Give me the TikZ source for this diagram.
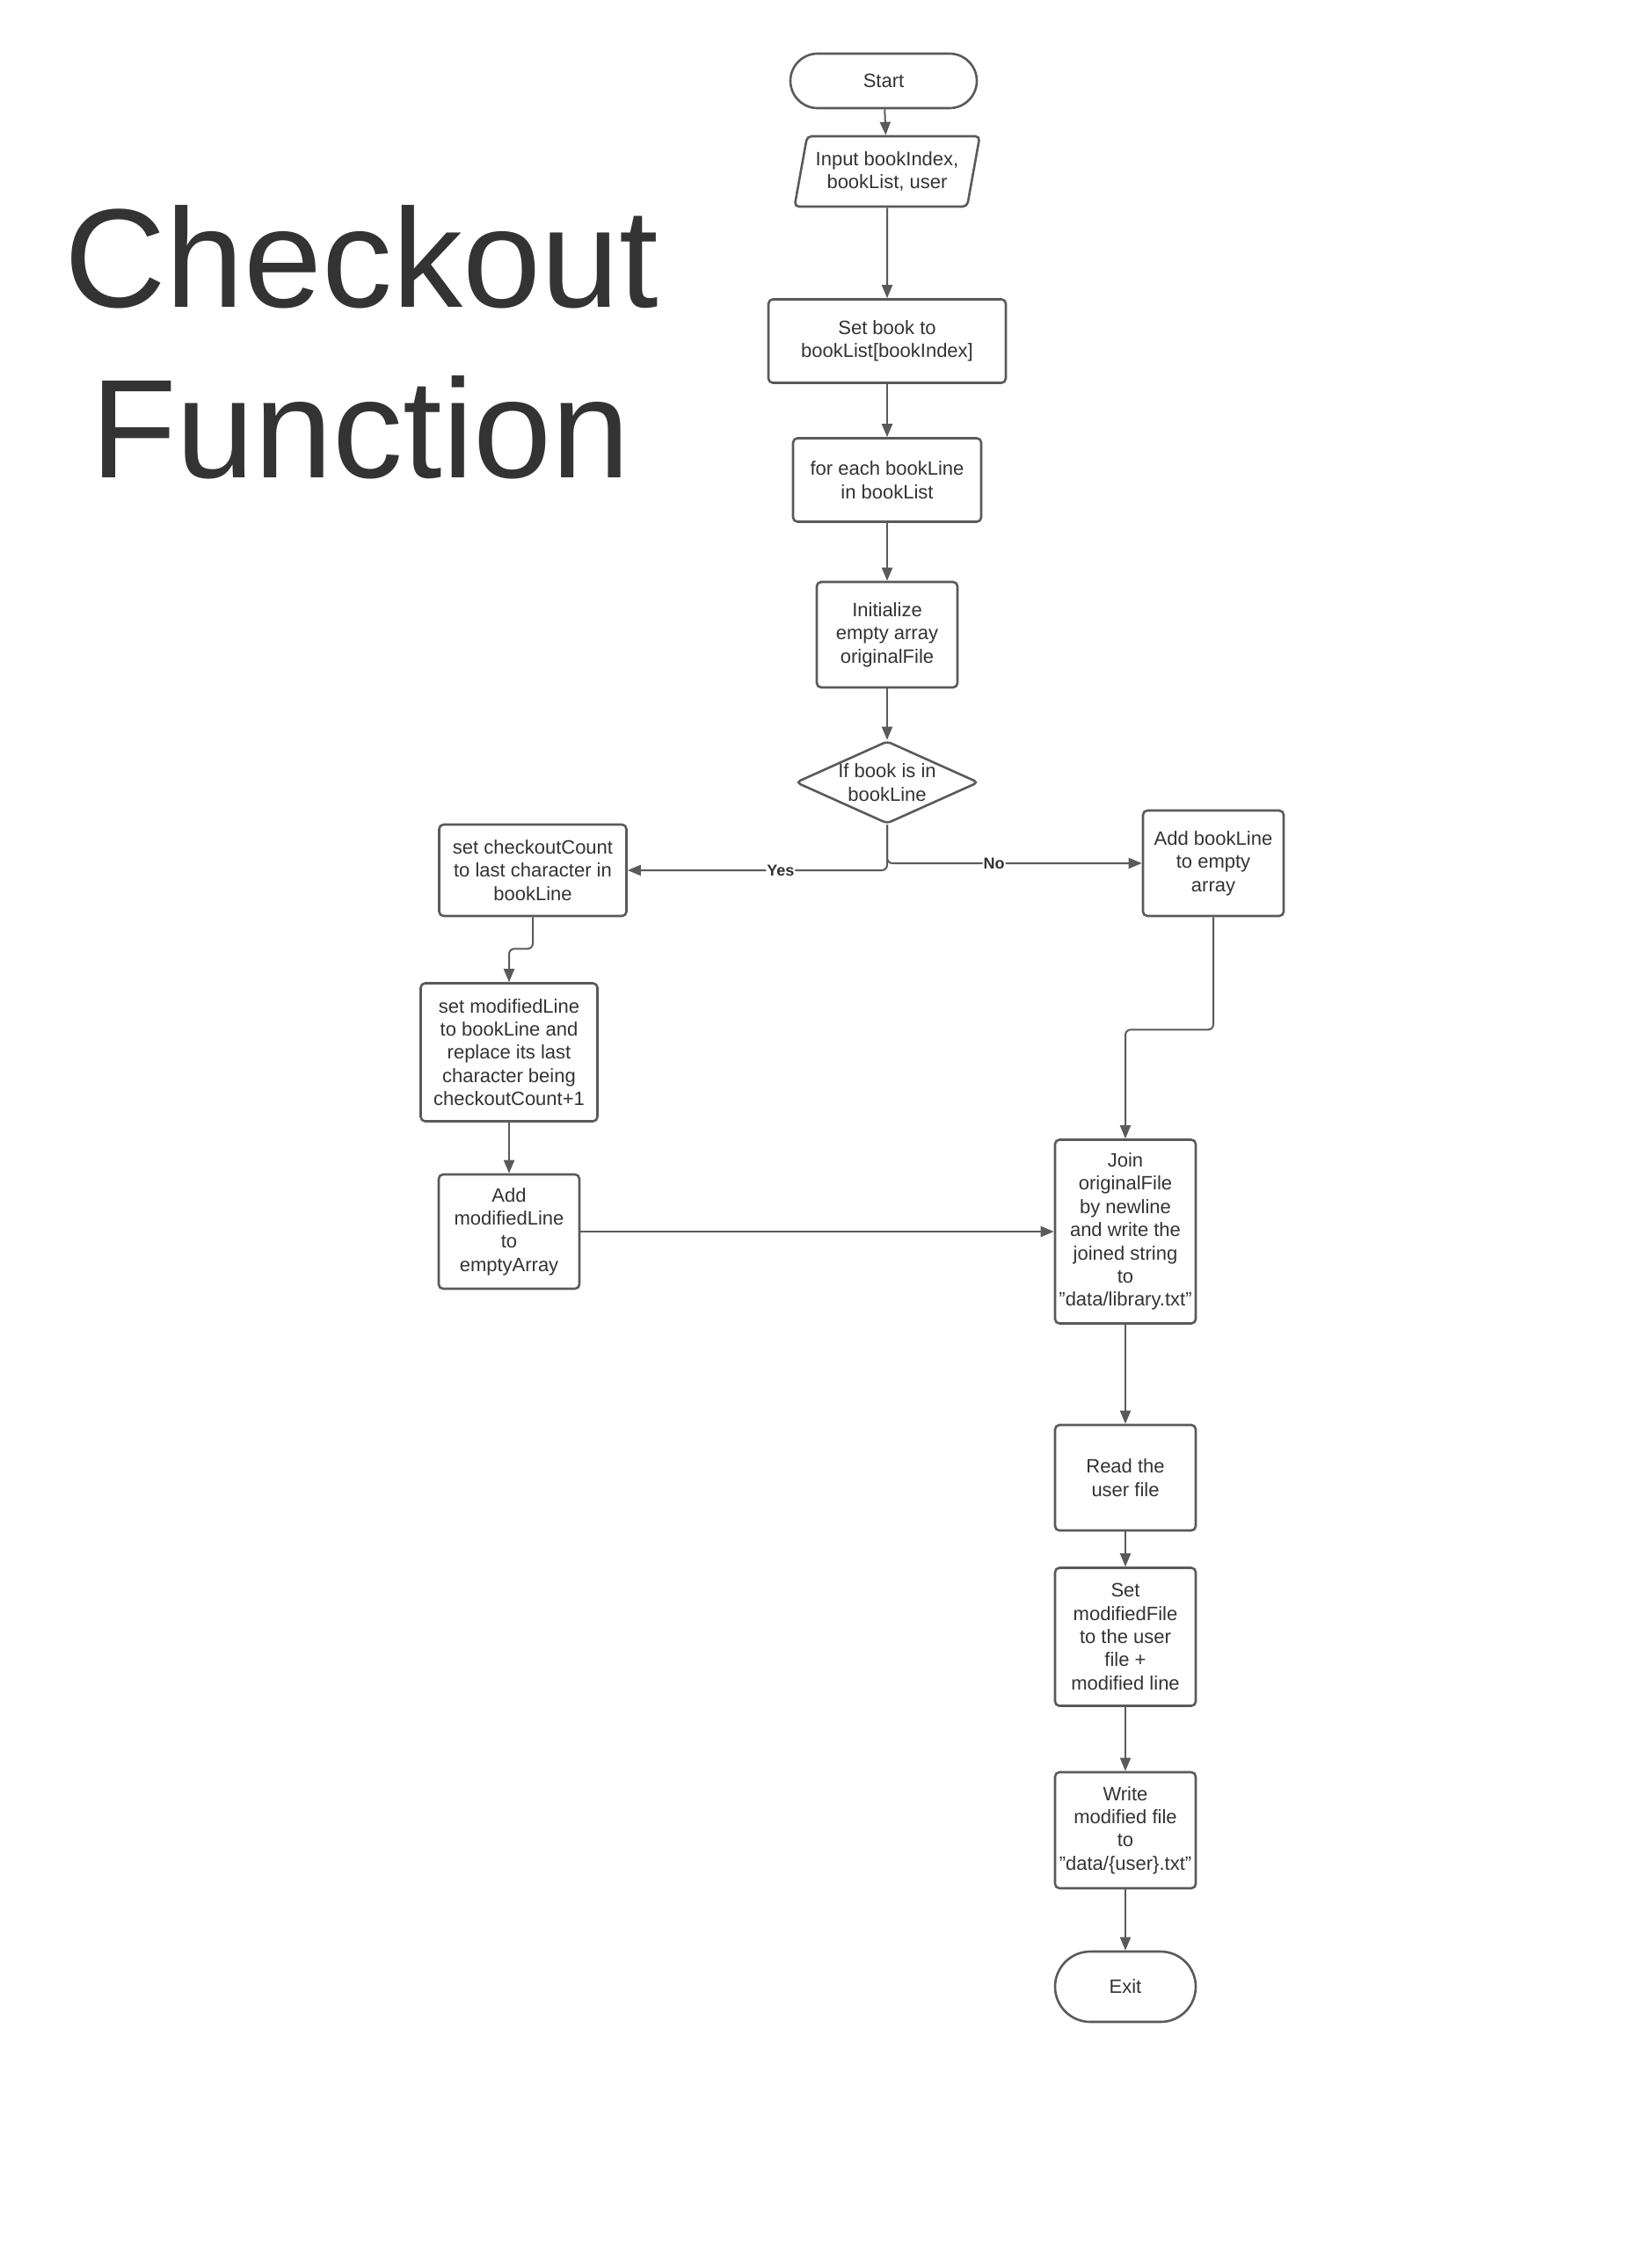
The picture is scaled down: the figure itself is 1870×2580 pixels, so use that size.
\documentclass[tikz,border=0pt]{standalone}
\usepackage{fontspec}
\setmainfont{Liberation Sans}
\usepackage{xcolor}
\usetikzlibrary{arrows.meta,shapes.geometric}

\definecolor{inkgray}{HTML}{333333}
\definecolor{linegray}{HTML}{5A5A5A}

\tikzset{
  box/.style={draw=linegray, line width=1.3pt, rounded corners=2.5pt, align=center,
    text=inkgray, inner sep=1pt, font=\fontsize{11}{13.2}\selectfont},
  term/.style={box, rounded corners=#1},
  iobox/.style={box, trapezium, trapezium left angle=75, trapezium right angle=105,
    trapezium stretches=true},
  decision/.style={box, diamond, inner sep=0pt,
    label={[align=center, text=inkgray, font=\fontsize{11}{13.2}\selectfont]center:#1}},
  flow/.style={draw=linegray, line width=1pt, -{Triangle[length=7.5pt,width=6pt]}, rounded corners=3pt},
  answer/.style={fill=white, inner sep=0.5pt, text=inkgray, font=\fontsize{9}{10}\selectfont\bfseries},
  title/.style={text=inkgray, inner sep=0pt, font=\fontsize{80}{90}\selectfont}
}

\begin{document}
\begin{tikzpicture}[x=0.5pt, y=-0.5pt]
    \useasboundingbox (0, 0) rectangle (1870, 2580);

    \node[title, anchor=base] (head1) at (411, 349) {Checkout};
    \node[title, anchor=base] (head2) at (410, 543) {Function};

    \node[term=15.5pt, minimum width=106pt, minimum height=31pt] (start) at (1005, 92) {Start};
    \node[iobox, minimum width=106pt, minimum height=40pt] (input) at (1009, 195) {Input bookIndex,\\bookList, user};
    \node[box, minimum width=135pt, minimum height=47.5pt] (setbook) at (1009, 388) {Set book to\\bookList[bookIndex]};
    \node[box, minimum width=107pt, minimum height=47.5pt] (foreach) at (1009, 546) {for each bookLine\\in bookList};
    \node[box, minimum width=80pt, minimum height=60pt] (init) at (1009, 722) {Initialize\\empty array\\originalFile};
    \node[decision={If book is in\\bookLine}, minimum width=104pt, minimum height=47pt] (ifbook) at (1009, 890) {};

    \node[box, minimum width=106.5pt, minimum height=52pt] (checkout) at (606, 990) {set checkoutCount\\to last character in\\bookLine};
    \node[box, minimum width=100.5pt, minimum height=78.5pt] (modline) at (579, 1197) {set modifiedLine\\to bookLine and\\replace its last\\character being\\checkoutCount+1};
    \node[box, minimum width=80pt, minimum height=65pt] (addmod) at (579, 1401) {Add\\modifiedLine\\to\\emptyArray};

    \node[box, minimum width=80pt, minimum height=60pt] (addline) at (1380, 982) {Add bookLine\\to empty\\array};
    \node[box, minimum width=80pt, minimum height=104.5pt] (join) at (1280, 1401) {Join\\originalFile\\by newline\\and write the\\joined string\\to\\"data/library.txt"};
    \node[box, minimum width=80pt, minimum height=60pt] (read) at (1280, 1681) {Read the\\user file};
    \node[box, minimum width=80pt, minimum height=78.5pt] (setfile) at (1280, 1862) {Set\\modifiedFile\\to the user\\file +\\modified line};
    \node[box, minimum width=80pt, minimum height=66pt] (write) at (1280, 2082) {Write\\modified file\\to\\"data/\{user\}.txt"};
    \node[term=20pt, minimum width=80pt, minimum height=40pt] (exit) at (1280, 2260) {Exit};

    % main column
    \draw[flow] (start) -- (input);
    \draw[flow] (input) -- (setbook);
    \draw[flow] (setbook) -- (foreach);
    \draw[flow] (foreach) -- (init);
    \draw[flow] (init) -- (ifbook);

    % branches
    \draw[flow] (ifbook.south) |- node[answer, pos=0.705] {Yes} (checkout.east);
    \draw[flow] (ifbook.south) |- node[answer, pos=0.71] {No} (addline.west);

    \draw[flow] (checkout.south) -- ++(0, 36) -| (modline.north);
    \draw[flow] (modline) -- (addmod);
    \draw[flow] (addmod) -- (join);
    \draw[flow] (addline.south) -- ++(0, 128) -| (join.north);

    \draw[flow] (join) -- (read);
    \draw[flow] (read) -- (setfile);
    \draw[flow] (setfile) -- (write);
    \draw[flow] (write) -- (exit);
\end{tikzpicture}
\end{document}
